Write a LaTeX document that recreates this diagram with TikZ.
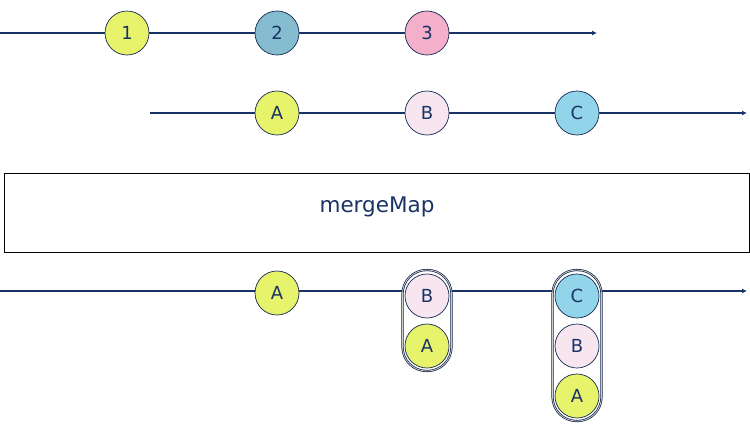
\documentclass[tikz,border=0pt]{standalone}
\usepackage{fontspec}
\setmainfont{DejaVu Sans}
\usetikzlibrary{arrows.meta}
\definecolor{navy}{HTML}{1A3366}
\definecolor{cyel}{HTML}{E8F36C}
\definecolor{cdark}{HTML}{86BCD0}
\definecolor{cpink}{HTML}{F4AFCB}
\definecolor{clpink}{HTML}{F7E6EF}
\definecolor{clblue}{HTML}{92D5EA}
\tikzset{
  timeline/.style={draw=navy, line width=1.6pt, -{Latex[length=5pt,width=5pt]}},
  marble/.style={circle, draw=navy!80!black, line width=0.7pt, minimum size=44pt, inner sep=0pt, text=navy, font=\fontsize{18}{18}\selectfont},
  capsule/.style={draw=navy!70!black, line width=0.7pt, double=gray!40, double distance=0.8pt, fill=white, rounded corners=24pt},
  opbox/.style={draw=black, line width=0.8pt, fill=white, minimum width=745pt, minimum height=79pt, text=navy, font=\fontsize{21.5}{21.5}\selectfont}
}
\begin{document}
\begin{tikzpicture}[x=1pt,y=-1pt]
\useasboundingbox (0,0) rectangle (750,440);
% row 1
\coordinate (s1) at (0,33);
\coordinate (e1) at (597,33);
\draw[timeline] (s1) -- (e1);
\node[marble, fill=cyel] (n1) at (127,33) {1};
\node[marble, fill=cdark] (n2) at (277,33) {2};
\node[marble, fill=cpink] (n3) at (427,33) {3};
% row 2
\coordinate (s2) at (150,113);
\coordinate (e2) at (747,113);
\draw[timeline] (s2) -- (e2);
\node[marble, fill=cyel] (a1) at (277,113) {A};
\node[marble, fill=clpink] (b1) at (427,113) {B};
\node[marble, fill=clblue] (c1) at (577,113) {C};
% operator
\node[opbox] (op) at (376.5,212.5) {};
\node[text=navy, font=\fontsize{21.5}{21.5}\selectfont] (oplabel) at (377,207) {mergeMap};
% row 3
\coordinate (s3) at (0,291);
\coordinate (e3) at (747,291);
\draw[timeline] (s3) -- (e3);
\node[marble, fill=cyel] (a2) at (277,293) {A};
\draw[capsule] (402.5,270) rectangle (451.5,371);
\node[marble, fill=clpink] (b2) at (427,296) {B};
\node[marble, fill=cyel] (a3) at (427,346) {A};
\draw[capsule] (552.5,270) rectangle (601.5,421);
\node[marble, fill=clblue] (c3) at (577,296) {C};
\node[marble, fill=clpink] (b3) at (577,346) {B};
\node[marble, fill=cyel] (a4) at (577,396) {A};
\end{tikzpicture}
\end{document}
